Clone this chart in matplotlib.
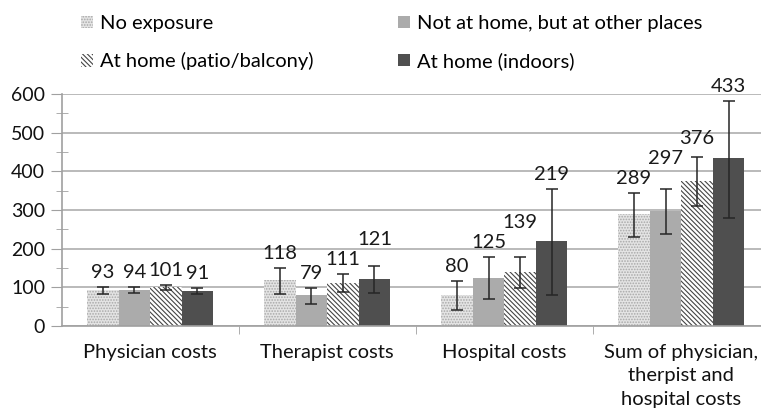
import numpy as np
import matplotlib
matplotlib.use("Agg")
import matplotlib.pyplot as plt
from matplotlib.ticker import MultipleLocator, FixedLocator

plt.rcParams['font.family'] = ['Lato', 'DejaVu Sans']
plt.rcParams['hatch.linewidth'] = 0.8

## data ##
categories = ['Physician costs', 'Therapist costs', 'Hospital costs',
              'Sum of physician,\ntherpist and\nhospital costs']
series = ['No exposure', 'Not at home, but at other places',
          'At home (patio/balcony)', 'At home (indoors)']
values = {
    'No exposure':                      [93, 118, 80, 289],
    'Not at home, but at other places': [94, 79, 125, 297],
    'At home (patio/balcony)':          [101, 111, 139, 376],
    'At home (indoors)':                [91, 121, 219, 433],
}
ci_low = {
    'No exposure':                      [83, 82, 40, 231],
    'Not at home, but at other places': [85, 57, 70, 238],
    'At home (patio/balcony)':          [92, 87, 98, 311],
    'At home (indoors)':                [82, 84, 80, 280],
}
ci_high = {
    'No exposure':                      [100, 150, 115, 345],
    'Not at home, but at other places': [101, 97, 178, 355],
    'At home (patio/balcony)':          [106, 133, 178, 438],
    'At home (indoors)':                [98, 155, 355, 581],
}

styles = {
    'No exposure':                      dict(facecolor='#e4e4e4', hatch='......', edgecolor='#a8a8a8'),
    'Not at home, but at other places': dict(facecolor='#ababab', hatch=None, edgecolor='#ababab'),
    'At home (patio/balcony)':          dict(facecolor='#ffffff', hatch='\\\\\\\\\\\\\\', edgecolor='#444444'),
    'At home (indoors)':                dict(facecolor='#4f4f4f', hatch=None, edgecolor='#4f4f4f'),
}

fig = plt.figure(figsize=(7.61, 4.12), dpi=100)
ax_rect = [0.081, 0.209, 0.919, 0.563]
ax = fig.add_axes(ax_rect)
ymax = 600
ppu = fig.bbox.height * ax_rect[3] / ymax   # pixels per data unit

x = np.arange(len(categories))
w = 0.178
handles = {}
for i, s in enumerate(series):
    pos = x + (i - 1.5) * w
    v = np.array(values[s])
    lo = v - np.array(ci_low[s])
    hi = np.array(ci_high[s]) - v
    b = ax.bar(pos, v, w, linewidth=0, zorder=2, **styles[s])
    handles[s] = b
    ax.errorbar(pos, v, yerr=[lo, hi], fmt='none', ecolor='#262626',
                elinewidth=1.1, capsize=4, capthick=1.1, zorder=3)

# value labels above the error bars; stagger neighbours that would collide
for g in range(len(categories)):
    prev = None
    for i, s in enumerate(series):
        px = g + (i - 1.5) * w
        val = values[s][g]
        bottom = ci_high[s][g] * ppu + 6
        if prev is not None and len(str(val)) == 3 and len(str(prev[1])) == 3 \
                and abs(bottom - prev[0]) < 18:
            bottom = prev[0] + 20
        prev = (bottom, val)
        ax.text(px, bottom / ppu, str(val), ha='center', va='bottom',
                fontsize=14.5, color='#1a1a1a')

ax.set_ylim(0, ymax)
ax.set_xlim(-0.5, 3.45)
ax.yaxis.set_major_locator(MultipleLocator(100))
ax.yaxis.set_minor_locator(MultipleLocator(50))
ax.grid(axis='y', which='major', color='#b4b4b4', linewidth=1.3, zorder=0)
ax.set_axisbelow(True)

ax.set_xticks(x)
ax.set_xticklabels(categories, fontsize=14.5, linespacing=1.45, color='#111111')
ax.xaxis.set_minor_locator(FixedLocator([0.5, 1.5, 2.5]))
ax.tick_params(axis='x', which='major', length=0, pad=13)
ax.tick_params(axis='x', which='minor', length=6, color='#a0a0a0', direction='out')
ax.tick_params(axis='y', which='major', length=8, color='#a0a0a0', labelsize=14,
               labelcolor='#111111', pad=4)
ax.tick_params(axis='y', which='minor', length=9, color='#a0a0a0', direction='inout')

for sp in ['top', 'right']:
    ax.spines[sp].set_visible(False)
for sp in ['left', 'bottom']:
    ax.spines[sp].set_color('#a0a0a0')
    ax.spines[sp].set_linewidth(1.2)

col1 = ['No exposure', 'At home (patio/balcony)']
col2 = ['Not at home, but at other places', 'At home (indoors)']
leg_kw = dict(loc='upper left', frameon=False, fontsize=14.5,
              handlelength=0.6, handleheight=0.6, handletextpad=0.35,
              labelspacing=1.0, borderaxespad=0, borderpad=0.3)
fig.legend([handles[s] for s in col1], col1, bbox_to_anchor=(0.098, 0.978), **leg_kw)
fig.legend([handles[s] for s in col2], col2, bbox_to_anchor=(0.515, 0.978), **leg_kw)

fig.savefig('out.png', dpi=100)
